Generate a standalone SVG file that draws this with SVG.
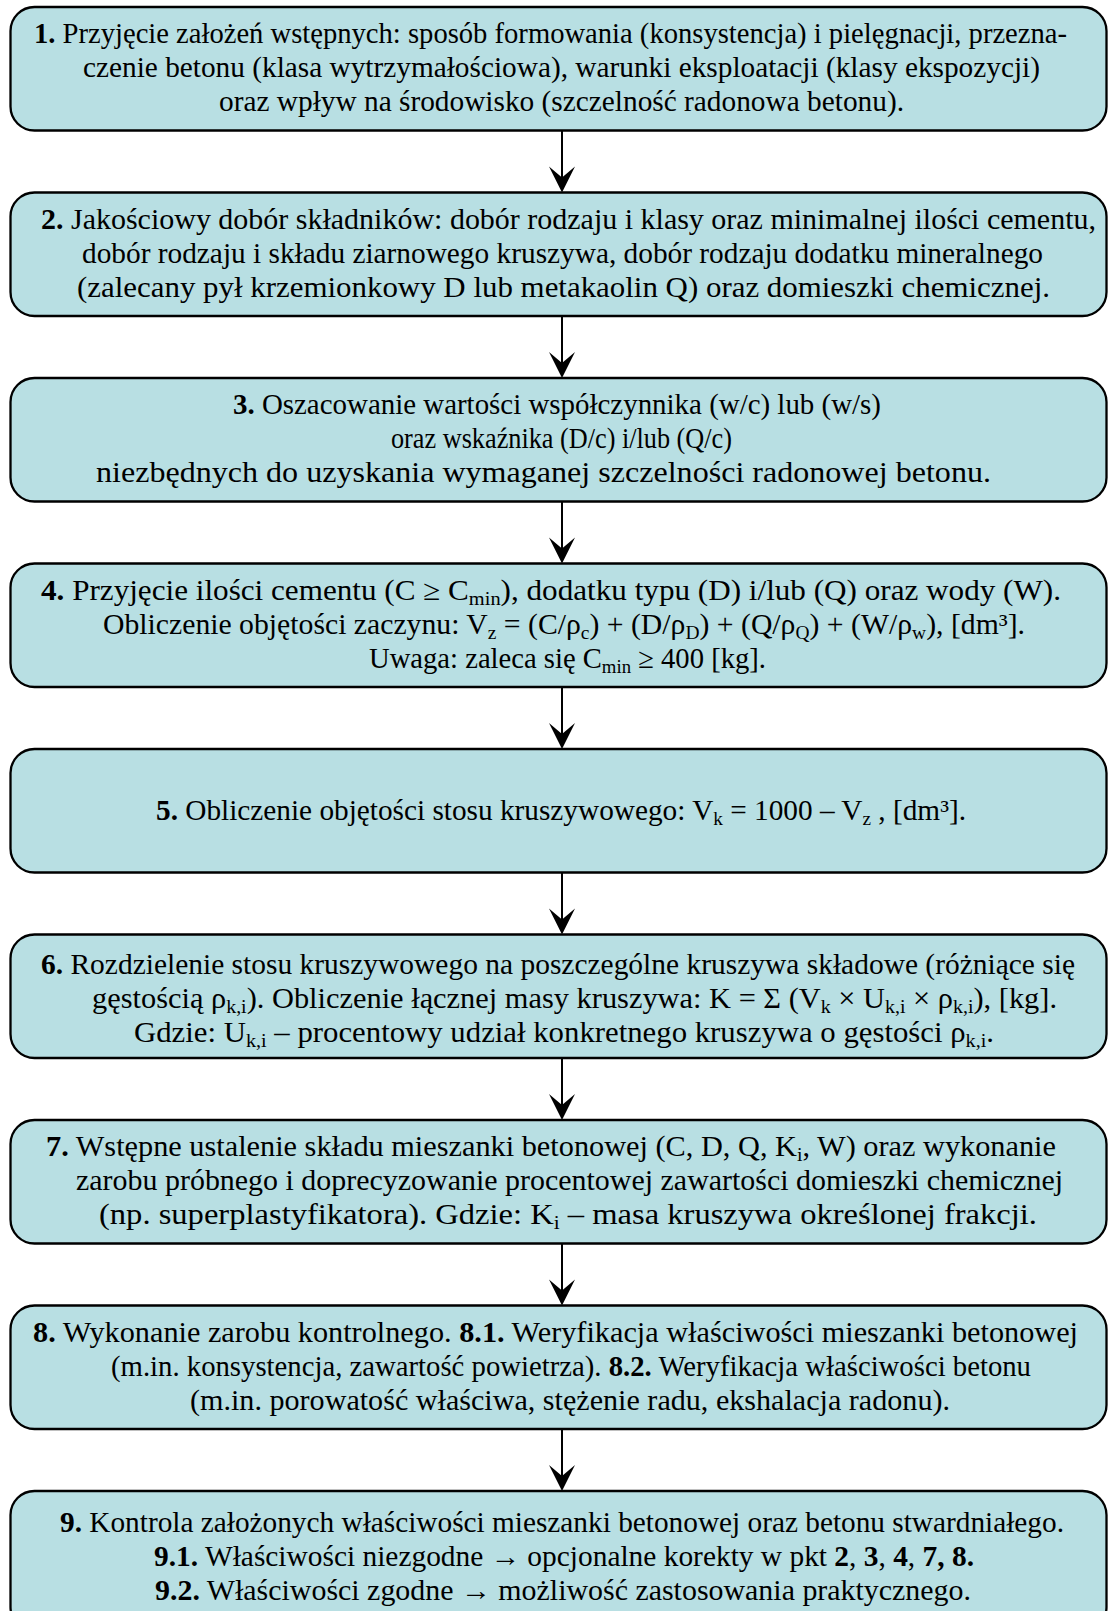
<svg xmlns="http://www.w3.org/2000/svg" width="1109" height="1611" viewBox="0 0 1109 1611">
<style>
.box{fill:#b8dfe3;stroke:#000;stroke-width:2.3}
text{font-family:"Liberation Serif","Times New Roman",serif;font-size:29px;fill:#000}
.b{font-weight:bold}
.s{font-size:19px}
.con line{stroke:#000;stroke-width:2}
.con path{fill:#000}
</style>
<rect width="1109" height="1611" fill="#fff"/>
<g id="node1">
<rect class="box" x="10.5" y="7" width="1096" height="123.5" rx="24"/>
<text x="34" y="43" textLength="1033" lengthAdjust="spacingAndGlyphs"><tspan class="b">1.</tspan> Przyjęcie założeń wstępnych: sposób formowania (konsystencja) i pielęgnacji, przezna-</text>
<text x="83" y="77" textLength="957" lengthAdjust="spacingAndGlyphs">czenie betonu (klasa wytrzymałościowa), warunki eksploatacji (klasy ekspozycji)</text>
<text x="219" y="111" textLength="685" lengthAdjust="spacingAndGlyphs">oraz wpływ na środowisko (szczelność radonowa betonu).</text>
</g>
<g id="node2">
<rect class="box" x="10.5" y="192.5" width="1096" height="123.5" rx="24"/>
<text x="41" y="228.5" textLength="1055" lengthAdjust="spacingAndGlyphs"><tspan class="b">2.</tspan> Jakościowy dobór składników: dobór rodzaju i klasy oraz minimalnej ilości cementu,</text>
<text x="82" y="262.5" textLength="961" lengthAdjust="spacingAndGlyphs">dobór rodzaju i składu ziarnowego kruszywa, dobór rodzaju dodatku mineralnego</text>
<text x="77" y="296.5" textLength="973" lengthAdjust="spacingAndGlyphs">(zalecany pył krzemionkowy D lub metakaolin Q) oraz domieszki chemicznej.</text>
</g>
<g id="node3">
<rect class="box" x="10.5" y="378" width="1096" height="123.5" rx="24"/>
<text x="233" y="414" textLength="648" lengthAdjust="spacingAndGlyphs"><tspan class="b">3.</tspan> Oszacowanie wartości współczynnika (w/c) lub (w/s)</text>
<text x="391" y="448" textLength="341" lengthAdjust="spacingAndGlyphs">oraz wskaźnika (D/c) i/lub (Q/c)</text>
<text x="96" y="482" textLength="895" lengthAdjust="spacingAndGlyphs">niezbędnych do uzyskania wymaganej szczelności radonowej betonu.</text>
</g>
<g id="node4">
<rect class="box" x="10.5" y="563.5" width="1096" height="123.5" rx="24"/>
<text x="41" y="599.5" textLength="1020" lengthAdjust="spacingAndGlyphs"><tspan class="b">4.</tspan> Przyjęcie ilości cementu (C ≥ C<tspan class="s" dy="5">min</tspan><tspan dy="-5">), dodatku typu (D) i/lub (Q) oraz wody (W).</tspan></text>
<text x="103" y="633.5" textLength="922" lengthAdjust="spacingAndGlyphs">Obliczenie objętości zaczynu: V<tspan class="s" dy="5">z</tspan><tspan dy="-5"> = (C/ρ</tspan><tspan class="s" dy="5">c</tspan><tspan dy="-5">) + (D/ρ</tspan><tspan class="s" dy="5">D</tspan><tspan dy="-5">) + (Q/ρ</tspan><tspan class="s" dy="5">Q</tspan><tspan dy="-5">) + (W/ρ</tspan><tspan class="s" dy="5">w</tspan><tspan dy="-5">), [dm³].</tspan></text>
<text x="369" y="667.5" textLength="397" lengthAdjust="spacingAndGlyphs">Uwaga: zaleca się C<tspan class="s" dy="5">min</tspan><tspan dy="-5"> ≥ 400 [kg].</tspan></text>
</g>
<g id="node5">
<rect class="box" x="10.5" y="749" width="1096" height="123.5" rx="24"/>
<text x="156" y="820" textLength="810" lengthAdjust="spacingAndGlyphs"><tspan class="b">5.</tspan> Obliczenie objętości stosu kruszywowego: V<tspan class="s" dy="5">k</tspan><tspan dy="-5"> = 1000 – V</tspan><tspan class="s" dy="5">z</tspan><tspan dy="-5"> , [dm³].</tspan></text>
</g>
<g id="node6">
<rect class="box" x="10.5" y="934.5" width="1096" height="123.5" rx="24"/>
<text x="41" y="974" textLength="1034" lengthAdjust="spacingAndGlyphs"><tspan class="b">6.</tspan> Rozdzielenie stosu kruszywowego na poszczególne kruszywa składowe (różniące się</text>
<text x="92" y="1008" textLength="965" lengthAdjust="spacingAndGlyphs">gęstością ρ<tspan class="s" dy="5">k,i</tspan><tspan dy="-5">). Obliczenie łącznej masy kruszywa: K = Σ (V</tspan><tspan class="s" dy="5">k</tspan><tspan dy="-5"> × U</tspan><tspan class="s" dy="5">k,i</tspan><tspan dy="-5"> × ρ</tspan><tspan class="s" dy="5">k,i</tspan><tspan dy="-5">), [kg].</tspan></text>
<text x="134" y="1042" textLength="860" lengthAdjust="spacingAndGlyphs">Gdzie: U<tspan class="s" dy="5">k,i</tspan><tspan dy="-5"> – procentowy udział konkretnego kruszywa o gęstości ρ</tspan><tspan class="s" dy="5">k,i</tspan><tspan dy="-5">.</tspan></text>
</g>
<g id="node7">
<rect class="box" x="10.5" y="1120" width="1096" height="123.5" rx="24"/>
<text x="46" y="1156" textLength="1010" lengthAdjust="spacingAndGlyphs"><tspan class="b">7.</tspan> Wstępne ustalenie składu mieszanki betonowej (C, D, Q, K<tspan class="s" dy="5">i</tspan><tspan dy="-5">, W) oraz wykonanie</tspan></text>
<text x="76" y="1190" textLength="987" lengthAdjust="spacingAndGlyphs">zarobu próbnego i doprecyzowanie procentowej zawartości domieszki chemicznej</text>
<text x="99" y="1224" textLength="938" lengthAdjust="spacingAndGlyphs">(np. superplastyfikatora). Gdzie: K<tspan class="s" dy="5">i</tspan><tspan dy="-5"> – masa kruszywa określonej frakcji.</tspan></text>
</g>
<g id="node8">
<rect class="box" x="10.5" y="1305.5" width="1096" height="123.5" rx="24"/>
<text x="33" y="1341.5" textLength="1045" lengthAdjust="spacingAndGlyphs"><tspan class="b">8.</tspan> Wykonanie zarobu kontrolnego. <tspan class="b">8.1.</tspan> Weryfikacja właściwości mieszanki betonowej</text>
<text x="111" y="1375.5" textLength="920" lengthAdjust="spacingAndGlyphs">(m.in. konsystencja, zawartość powietrza). <tspan class="b">8.2.</tspan> Weryfikacja właściwości betonu</text>
<text x="190" y="1409.5" textLength="760" lengthAdjust="spacingAndGlyphs">(m.in. porowatość właściwa, stężenie radu, ekshalacja radonu).</text>
</g>
<g id="node9">
<rect class="box" x="10.5" y="1491" width="1096" height="140" rx="24"/>
<text x="60" y="1532" textLength="1004" lengthAdjust="spacingAndGlyphs"><tspan class="b">9.</tspan> Kontrola założonych właściwości mieszanki betonowej oraz betonu stwardniałego.</text>
<text x="154" y="1566" textLength="820" lengthAdjust="spacingAndGlyphs"><tspan class="b">9.1.</tspan> Właściwości niezgodne → opcjonalne korekty w pkt <tspan class="b">2</tspan>, <tspan class="b">3</tspan>, <tspan class="b">4</tspan>, <tspan class="b">7, 8.</tspan></text>
<text x="155" y="1600" textLength="816" lengthAdjust="spacingAndGlyphs"><tspan class="b">9.2.</tspan> Właściwości zgodne → możliwość zastosowania praktycznego.</text>
</g>
<g id="connectors" class="con">
<line x1="562" y1="130.5" x2="562" y2="180"/><path d="M562,192.5 L549,166.5 L562,177.5 L575,166.5 Z"/>
<line x1="562" y1="316" x2="562" y2="366"/><path d="M562,378 L549,352 L562,363 L575,352 Z"/>
<line x1="562" y1="501.5" x2="562" y2="551"/><path d="M562,563.5 L549,537.5 L562,548.5 L575,537.5 Z"/>
<line x1="562" y1="687" x2="562" y2="737"/><path d="M562,749 L549,723 L562,734 L575,723 Z"/>
<line x1="562" y1="872.5" x2="562" y2="922"/><path d="M562,934.5 L549,908.5 L562,919.5 L575,908.5 Z"/>
<line x1="562" y1="1058" x2="562" y2="1108"/><path d="M562,1120 L549,1094 L562,1105 L575,1094 Z"/>
<line x1="562" y1="1243.5" x2="562" y2="1293"/><path d="M562,1305.5 L549,1279.5 L562,1290.5 L575,1279.5 Z"/>
<line x1="562" y1="1429" x2="562" y2="1479"/><path d="M562,1491 L549,1465 L562,1476 L575,1465 Z"/>
</g>
</svg>
